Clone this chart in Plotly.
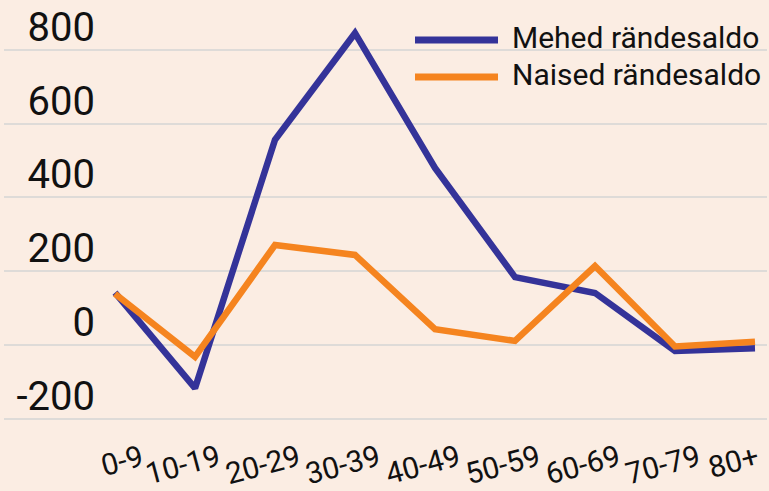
import plotly.graph_objects as go

categories = ["0-9", "10-19", "20-29", "30-39", "40-49", "50-59", "60-69", "70-79", "80+"]
men = [142, -117, 556, 845, 480, 184, 141, -16, -9]
women = [139, -32, 271, 244, 43, 11, 214, -4, 9]
series_names = ["Mehed rändesaldo", "Naised rändesaldo"]
series_colors = ["#343399", "#f5841f"]
y_ticks = [-200, 0, 200, 400, 600, 800]

BG = "#fbede3"
FONT = "Roboto"

fig = go.Figure()
for name, vals, col in zip(series_names, [men, women], series_colors):
    fig.add_trace(go.Scatter(
        x=list(range(len(categories))), y=vals, mode="lines", name=name,
        line=dict(color=col, width=6.5), showlegend=False,
    ))

# plot area geometry (pixels)
L, R, T, B = 4, 2, 5, 61
W, H = 769, 491
pw, ph = W - L - R, H - T - B

def px_x(p):
    return (p - L) / pw

def px_y(p):
    return (H - B - p) / ph

# x-axis category labels (rotated), kept inside the page at both ends
n = len(categories)
for i, c in enumerate(categories):
    if i == 0:
        anchor, shift, yc = "left", -20, 460
    elif i == n - 1:
        anchor, shift, yc = "right", 10, 461
    else:
        anchor, shift, yc = "center", -12, 465
    fig.add_annotation(
        x=i, xref="x", y=px_y(yc), yref="paper", text=c, showarrow=False,
        textangle=-15, xanchor=anchor, yanchor="middle", xshift=shift,
        font=dict(family=FONT, size=30, color="#111111"),
    )

# legend
for k, (name, col) in enumerate(zip(series_names, series_colors)):
    yy = [40, 77][k]
    fig.add_shape(type="line", xref="paper", yref="paper",
                  x0=px_x(415), x1=px_x(498), y0=px_y(yy), y1=px_y(yy),
                  line=dict(color=col, width=7))
    fig.add_annotation(x=px_x(510), xref="paper", y=px_y(yy - 3), yref="paper",
                       text=name, showarrow=False, xanchor="left", yanchor="middle",
                       font=dict(family=FONT, size=30, color="#111111"))

fig.update_layout(
    width=W, height=H,
    margin=dict(l=L, r=R, t=T, b=B),
    paper_bgcolor=BG, plot_bgcolor=BG,
    font=dict(family=FONT, color="#111111"),
    showlegend=False,
    xaxis=dict(range=[-1.3875, 8.15], showgrid=False, zeroline=False,
               showticklabels=False, ticks="", automargin=False),
    yaxis=dict(range=[-230.4, 921.4], tickvals=y_ticks, ticktext=[str(v) for v in y_ticks],
               showgrid=True, gridcolor="#dedbd8", gridwidth=2, zeroline=False,
               ticklabelposition="outside top", ticklabelstandoff=-92,
               ticklabelshift=5, ticklabeloverflow="allow",
               tickfont=dict(family=FONT, size=40, color="#111111"),
               automargin=False, ticks=""),
)

fig.write_html("out.html", config={"displayModeBar": False},
               post_script="document.body.style.margin='0';document.body.style.background='" + BG + "';")
